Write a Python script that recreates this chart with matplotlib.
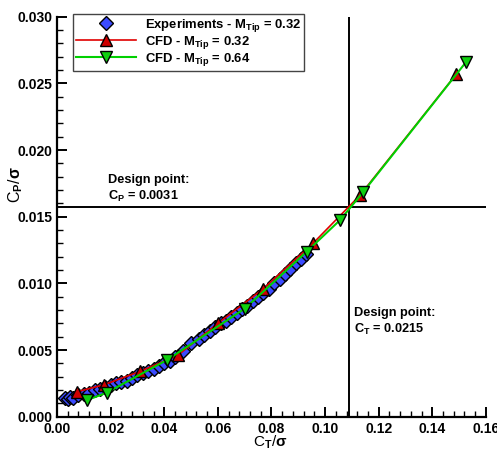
import matplotlib.pyplot as plt
from matplotlib.ticker import MultipleLocator, FormatStrFormatter

plt.rcParams["font.family"] = ["Liberation Sans", "DejaVu Sans"]
plt.rcParams["font.weight"] = "bold"
plt.rcParams["mathtext.fontset"] = "custom"
plt.rcParams["mathtext.rm"] = "Liberation Sans:bold"
plt.rcParams["mathtext.bf"] = "Liberation Sans:bold"
plt.rcParams["mathtext.it"] = "Liberation Sans"

# experiments, M_tip = 0.32
exp_ct = [0.003, 0.004, 0.005, 0.006, 0.008, 0.010, 0.012, 0.014, 0.016, 0.018,
          0.020, 0.022, 0.024, 0.026, 0.028, 0.030, 0.032, 0.034, 0.036, 0.038,
          0.040, 0.042, 0.044, 0.047, 0.050, 0.053, 0.055, 0.057, 0.059, 0.061,
          0.063, 0.065, 0.067, 0.069, 0.071, 0.073, 0.075, 0.077, 0.079, 0.081,
          0.083, 0.085, 0.087, 0.089, 0.091, 0.093]
exp_cp = [0.0014, 0.0013, 0.0015, 0.0014, 0.0016, 0.0017, 0.0018, 0.0020, 0.0021, 0.0022,
          0.0024, 0.0025, 0.0026, 0.0027, 0.0029, 0.0031, 0.0033, 0.0034, 0.0036, 0.0038,
          0.0040, 0.0042, 0.0045, 0.0049, 0.0055, 0.0058, 0.0061, 0.0064, 0.0067, 0.0070,
          0.0072, 0.0075, 0.0078, 0.0081, 0.0083, 0.0087, 0.0090, 0.0093, 0.0096, 0.0100,
          0.0103, 0.0107, 0.0111, 0.0115, 0.0118, 0.0122]

# CFD, M_tip = 0.32
cfd32_ct = [0.0075, 0.0176, 0.031, 0.045, 0.060, 0.077, 0.0955, 0.113, 0.149]
cfd32_cp = [0.00187, 0.0024, 0.0034, 0.0046, 0.0070, 0.0096, 0.0130, 0.0166, 0.0257]

# CFD, M_tip = 0.64
cfd64_ct = [0.0113, 0.0185, 0.041, 0.070, 0.0931, 0.1056, 0.1143, 0.1526]
cfd64_cp = [0.00125, 0.0018, 0.00425, 0.0081, 0.01237, 0.01475, 0.01687, 0.0266]

design_ct = 0.109
design_cp = 0.0157

fig = plt.figure(figsize=(4.97, 4.5), dpi=100)
ax = fig.add_axes([0.1147, 0.074, 0.863, 0.889])

ax.axvline(design_ct, color="black", lw=1.4, zorder=1)
ax.axhline(design_cp, color="black", lw=1.4, zorder=1)

ax.plot(exp_ct, exp_cp, ls="none", marker="D", ms=7.5, mfc="#3b4bff", mec="black",
        mew=1.0, label=r"Experiments - M$_{\mathrm{Tip}}$ = 0.32", zorder=3)
ax.plot(cfd32_ct, cfd32_cp, color="#e00000", lw=1.2, marker="^", ms=8, mfc="#d00000",
        mec="black", mew=1.0, label=r"CFD - M$_{\mathrm{Tip}}$ = 0.32", zorder=4)
ax.plot(cfd64_ct, cfd64_cp, color="#00d000", lw=1.5, marker="v", ms=8, mfc="#10d010",
        mec="black", mew=1.0, label=r"CFD - M$_{\mathrm{Tip}}$ = 0.64", zorder=5)

ax.set_xlim(0, 0.16)
ax.set_ylim(0, 0.030)
ax.xaxis.set_major_locator(MultipleLocator(0.02))
ax.xaxis.set_minor_locator(MultipleLocator(0.004))
ax.yaxis.set_major_locator(MultipleLocator(0.005))
ax.yaxis.set_minor_locator(MultipleLocator(0.001))
ax.xaxis.set_major_formatter(FormatStrFormatter("%.2f"))
ax.yaxis.set_major_formatter(FormatStrFormatter("%.3f"))
ax.tick_params(which="major", direction="in", length=7, width=1.4, labelsize=10, pad=3.5)
ax.tick_params(which="minor", direction="in", length=4, width=1.0)
for lbl in ax.get_xticklabels() + ax.get_yticklabels():
    lbl.set_fontweight("bold")

ax.spines["top"].set_visible(False)
ax.spines["right"].set_visible(False)
ax.spines["left"].set_linewidth(1.6)
ax.spines["bottom"].set_linewidth(1.6)

ax.set_xlabel(r"C$_{\mathrm{T}}$/$\sigma$", fontsize=11, va="top")
ax.set_ylabel(r"C$_{\mathrm{P}}$/$\sigma$", fontsize=11.5, va="center")
ax.xaxis.set_label_coords(0.4965, -0.041)
ax.yaxis.set_label_coords(-0.096, 0.58)

ax.text(0.019, 0.01755, "Design point:", fontsize=9.2, fontweight="bold", va="baseline")
ax.text(0.019, 0.01625, r"C$_{\mathrm{P}}$ = 0.0031", fontsize=9.2, fontweight="bold",
        va="baseline")
ax.text(0.1108, 0.00755, "Design point:", fontsize=9.2, fontweight="bold", va="baseline")
ax.text(0.1108, 0.00627, r"C$_{\mathrm{T}}$ = 0.0215", fontsize=9.2, fontweight="bold",
        va="baseline")

leg = ax.legend(loc="upper left", bbox_to_anchor=(0.037, 1.007), borderaxespad=0,
                fontsize=9.35, frameon=True, fancybox=False, edgecolor="#444444",
                framealpha=1, handlelength=4.6, borderpad=0.25, labelspacing=0.0,
                handletextpad=0.7)
leg.get_frame().set_linewidth(1.0)
for t in leg.get_texts():
    t.set_fontweight("bold")

fig.savefig("out.png", dpi=100)
